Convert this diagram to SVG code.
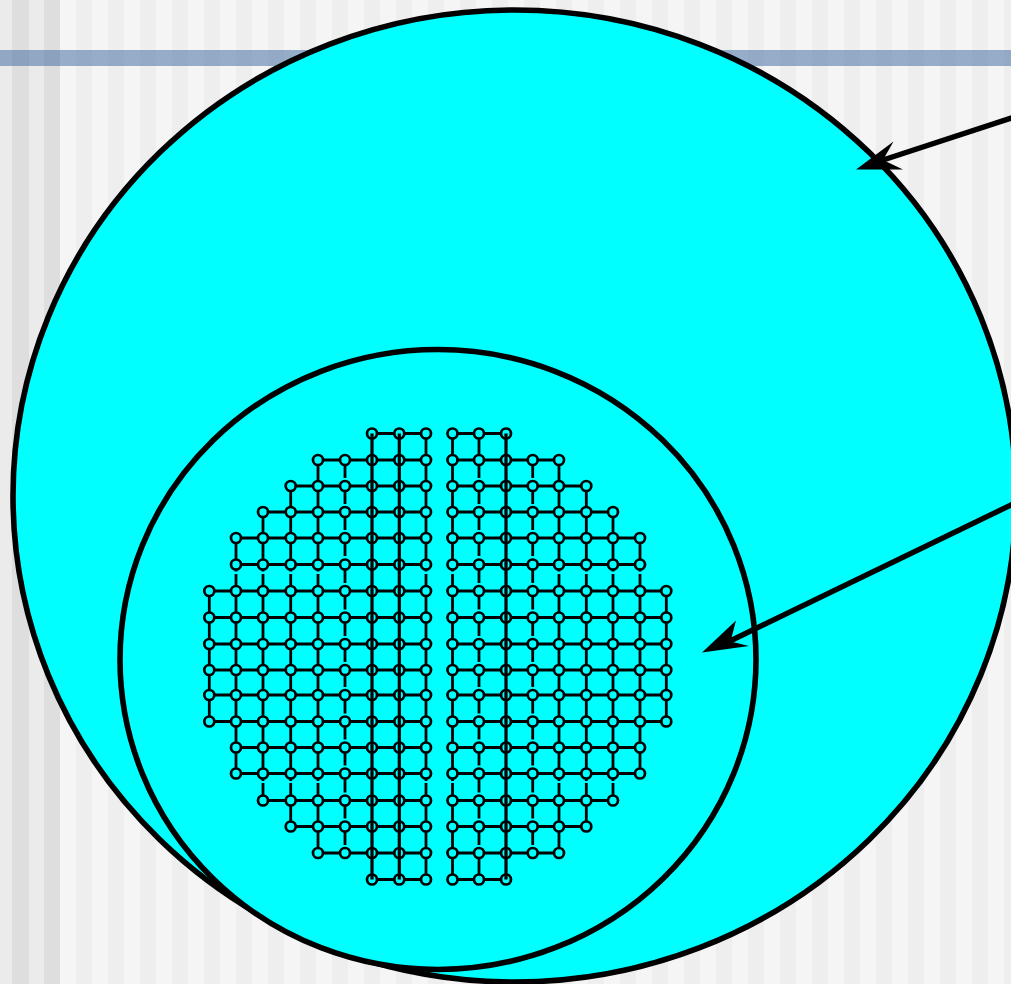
<svg xmlns="http://www.w3.org/2000/svg" xmlns:xlink="http://www.w3.org/1999/xlink" width="1011" height="984" viewBox="0 0 1011 984">
<defs>
<pattern id="st" width="32" height="984" patternUnits="userSpaceOnUse" x="60"><rect width="32" height="984" fill="#f5f5f5"/><rect x="16" width="17" height="984" fill="#eeeeee"/></pattern>
<circle id="n" r="5" class="n"/>
<g id="r0"><use href="#n" x="372"/><use href="#n" x="399.3"/><use href="#n" x="426"/><use href="#n" x="452.5"/><use href="#n" x="479"/><use href="#n" x="506"/></g>
<g id="r1"><use href="#r0"/><use href="#n" x="318"/><use href="#n" x="345"/><use href="#n" x="532.7"/><use href="#n" x="559"/></g>
<g id="r2"><use href="#r1"/><use href="#n" x="290.7"/><use href="#n" x="586.3"/></g>
<g id="r3"><use href="#r2"/><use href="#n" x="263"/><use href="#n" x="613"/></g>
<g id="r4"><use href="#r3"/><use href="#n" x="236"/><use href="#n" x="640"/></g>
<g id="r6"><use href="#r4"/><use href="#n" x="209.3"/><use href="#n" x="666.3"/></g>
<path id="gapcol" d="M0 460V478M0 486V504M0 512V530M0 538V556M0 564.5V583M0 591V609.5M0 617.5V636M0 644V662M0 670V687M0 695V713.5M0 721.5V739.5M0 747.5V765.5M0 773.5V792.5M0 800.5V818.5M0 826.5V845"/>
</defs>
<style>
.big{fill:#00ffff;stroke:#000;stroke-width:5.6}
.e{stroke:#000;stroke-width:2.8;fill:none}
.t{stroke:#000;stroke-width:3.2;fill:none}
.n{fill:#00ffff;stroke:#000;stroke-width:2.7}
.c{stroke:#000;stroke-width:5.4;fill:none}
.h{fill:#000}
</style>
<rect width="1011" height="984" fill="url(#st)"/>
<rect x="0" width="60" height="984" fill="#ebebeb"/>
<rect x="12" width="17" height="984" fill="#dedede"/>
<rect x="44" width="16" height="984" fill="#dedede"/>
<rect y="50" width="1011" height="16" fill="#35659d" fill-opacity="0.5"/>
<ellipse id="outer" class="big" cx="514.5" cy="496" rx="501.5" ry="486"/>
<ellipse id="inner" class="big" cx="438" cy="659.5" rx="318" ry="310"/>
<g id="grid">
<path id="edges" class="e" d="M372 433.5H426M452.5 433.5H506M318 460H426M452.5 460H559M290.7 486H426M452.5 486H586.3M263 512H426M452.5 512H613M236 538H426M452.5 538H640M236 564.5H426M452.5 564.5H640M209.3 591H426M452.5 591H666.3M209.3 617.5H426M452.5 617.5H666.3M209.3 644H426M452.5 644H666.3M209.3 670H426M452.5 670H666.3M209.3 695H426M452.5 695H666.3M209.3 721.5H426M452.5 721.5H666.3M236 747.5H426M452.5 747.5H640M236 773.5H426M452.5 773.5H640M263 800.5H426M452.5 800.5H613M290.7 826.5H426M452.5 826.5H586.3M318 853H426M452.5 853H559M372 879.5H426M452.5 879.5H506M209.3 591V721.5M236 538V571.5M236 574V773.5M263 512V571.5M263 574V781M263 783V800.5M290.7 486V571.5M290.7 574V781M290.7 783V826.5M318 460V571.5M318 574V781M318 783V853M426 433.5V571.5M426 574V781M426 783V879.5M452.5 433.5V571.5M452.5 574V781M452.5 783V879.5M559 460V571.5M559 574V781M559 783V853M586.3 486V571.5M586.3 574V781M586.3 783V826.5M613 512V571.5M613 574V781M613 783V800.5M640 538V571.5M640 574V773.5M666.3 591V721.5M479 433.5V460M479 853V879.5"/>
<use href="#gapcol" x="345" class="e"/>
<use href="#gapcol" x="479" class="e"/>
<use href="#gapcol" x="532.7" class="e"/>
<g id="nodes">
<use id="row1" href="#r0" y="433.5"/>
<use id="row2" href="#r1" y="460"/>
<use id="row3" href="#r2" y="486"/>
<use id="row4" href="#r3" y="512"/>
<use id="row5" href="#r4" y="538"/>
<use id="row6" href="#r4" y="564.5"/>
<use id="row7" href="#r6" y="591"/>
<use id="row8" href="#r6" y="617.5"/>
<use id="row9" href="#r6" y="644"/>
<use id="row10" href="#r6" y="670"/>
<use id="row11" href="#r6" y="695"/>
<use id="row12" href="#r6" y="721.5"/>
<use id="row13" href="#r4" y="747.5"/>
<use id="row14" href="#r4" y="773.5"/>
<use id="row15" href="#r3" y="800.5"/>
<use id="row16" href="#r2" y="826.5"/>
<use id="row17" href="#r1" y="853"/>
<use id="row18" href="#r0" y="879.5"/>
</g>
<path id="through" class="t" d="M372 433.5V879.5M399.3 433.5V879.5M506 433.5V879.5"/>
</g>
<g id="connectors">
<path class="c" d="M1013 117.5L880 161"/>
<polygon class="h" points="856,169.5 893.5,141.5 883,160 903,169.5"/>
<path class="c" d="M1013 504L728 642"/>
<polygon class="h" points="702,652.5 736,620.5 730.5,641.5 749,646"/>
</g>
</svg>
